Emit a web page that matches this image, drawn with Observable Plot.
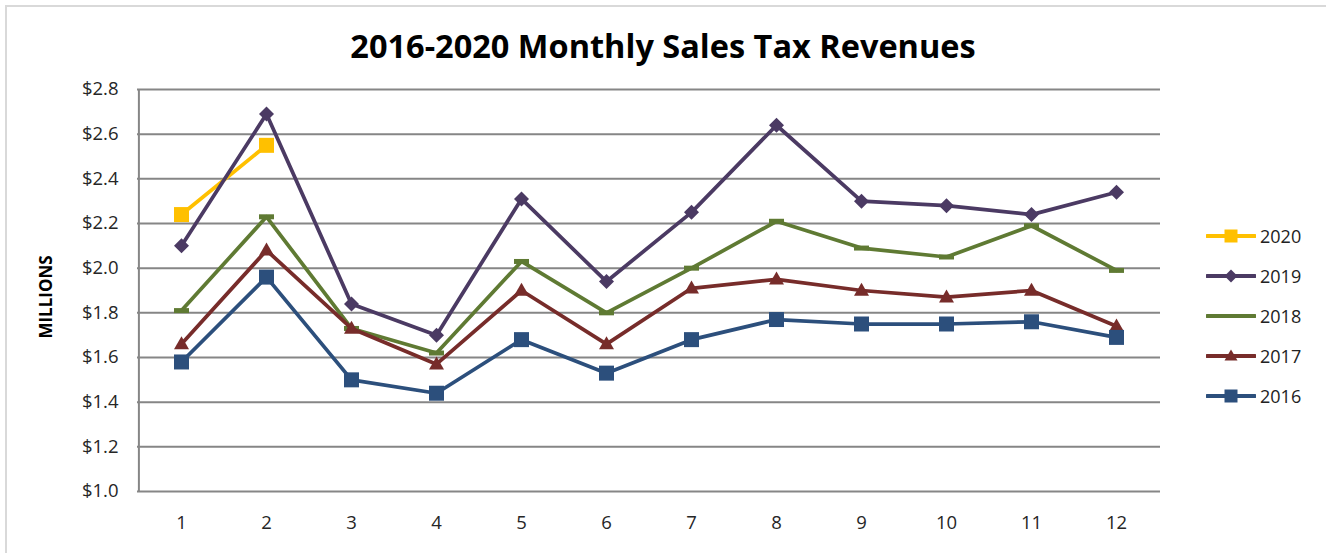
<!DOCTYPE html>
<html>
<head>
<meta charset="utf-8">
<script src="https://cdn.jsdelivr.net/npm/d3@7"></script>
<script src="https://cdn.jsdelivr.net/npm/@observablehq/plot@0.6"></script>
<style>
  html, body { margin: 0; padding: 0; background: #fff; }
  #wrap { position: relative; width: 1326px; height: 553px; overflow: hidden; font-family: "Open Sans", Lato, sans-serif; }
  #frame { position: absolute; left: 5px; top: 5px; width: 1325px; height: 560px; border: 2px solid #d9d9d9; box-sizing: border-box; }
  #title { position: absolute; left: 0; top: 26px; width: 1326px; text-align: center; font-weight: bold; font-size: 32.5px; line-height: 40px; color: #000; }
  #chart { position: absolute; left: 0; top: 0; }
  #ylab { position: absolute; left: 45px; top: 297px; transform: translate(-50%, -50%) rotate(-90deg); font-weight: bold; font-size: 17px; color: #000; white-space: nowrap; }
  #legend { position: absolute; left: 1206px; top: 216px; }
  .li { display: flex; align-items: center; height: 40px; font-size: 18px; color: #222; }
  .li svg { margin-right: 4px; }
</style>
</head>
<body>
<div id="wrap">
  <div id="chart"></div>
  <div id="frame"></div>
  <div id="title">2016-2020 Monthly Sales Tax Revenues</div>
  <div id="ylab">MILLIONS</div>
  <div id="legend"></div>
</div>
<script>
const months = [1, 2, 3, 4, 5, 6, 7, 8, 9, 10, 11, 12];
const yTicks = [1.0, 1.2, 1.4, 1.6, 1.8, 2.0, 2.2, 2.4, 2.6, 2.8];
const years = ["2020", "2019", "2018", "2017", "2016"];
const v2020 = [2.24, 2.55];
const v2019 = [2.10, 2.69, 1.84, 1.70, 2.31, 1.94, 2.25, 2.64, 2.30, 2.28, 2.24, 2.34];
const v2018 = [1.81, 2.23, 1.73, 1.62, 2.03, 1.80, 2.00, 2.21, 2.09, 2.05, 2.19, 1.99];
const v2017 = [1.66, 2.08, 1.73, 1.57, 1.90, 1.66, 1.91, 1.95, 1.90, 1.87, 1.90, 1.74];
const v2016 = [1.58, 1.96, 1.50, 1.44, 1.68, 1.53, 1.68, 1.77, 1.75, 1.75, 1.76, 1.69];

const colors = {"2020": "#FFC000", "2019": "#4B3A63", "2018": "#5F7A33", "2017": "#772C2A", "2016": "#2C4F7C"};

// custom marker shapes
const sq = (s) => ({draw(c) { c.rect(-s/2, -s/2, s, s); }});
const diamond = (h) => ({draw(c) { c.moveTo(0, -h); c.lineTo(h, 0); c.lineTo(0, h); c.lineTo(-h, 0); c.closePath(); }});
const dash = (w, h) => ({draw(c) { c.rect(-w/2, -h/2, w, h); }});
const tri = (w, h) => ({draw(c) { c.moveTo(0, -h*0.6); c.lineTo(w/2, h*0.4); c.lineTo(-w/2, h*0.4); c.closePath(); }});
const symbols = {"2020": sq(15), "2019": diamond(7.5), "2018": dash(15, 5), "2017": tri(15, 13), "2016": sq(15)};
const legendSymbols = {"2020": sq(13), "2019": diamond(6.5), "2018": null, "2017": tri(13, 11), "2016": sq(13)};

const seriesValues = {"2020": v2020, "2019": v2019, "2018": v2018, "2017": v2017, "2016": v2016};
const rows = {};
for (const y of years) rows[y] = seriesValues[y].map((v, i) => ({month: months[i], value: v, year: y}));

const marks = [
  Plot.ruleY(yTicks, {stroke: "#868686", strokeWidth: 2}),
  Plot.ruleX([months[0]], {dx: -42.6, y1: yTicks[0], y2: yTicks[yTicks.length - 1], stroke: "#868686", strokeWidth: 2})
];
for (const y of years) {
  marks.push(Plot.line(rows[y], {x: "month", y: "value", stroke: colors[y], strokeWidth: 3.75, strokeLinejoin: "round"}));
  marks.push(Plot.dot(rows[y], {x: "month", y: "value", fill: colors[y], stroke: "none", r: 5, symbol: () => symbols[y]}));
}

const chart = Plot.plot({
  width: 1326,
  height: 553,
  marginLeft: 137,
  marginRight: 166,
  marginTop: 89,
  marginBottom: 62,
  style: {fontFamily: "'Open Sans', Lato, sans-serif", fontSize: "18.5px", color: "#262626", background: "transparent"},
  x: {type: "point", domain: months, padding: 0.5, tickSize: 0, tickPadding: 24, label: null},
  y: {domain: [1.0, 2.8], ticks: yTicks, tickSize: 0, tickPadding: 19, tickFormat: d => "$" + d.toFixed(1), label: null},
  marks
});
document.getElementById("chart").appendChild(chart);

// legend
const leg = document.getElementById("legend");
for (const y of years) {
  const row = document.createElement("div");
  row.className = "li";
  const svg = d3.create("svg").attr("width", 50).attr("height", 16);
  svg.append("line").attr("x1", 1).attr("x2", 49).attr("y1", 8).attr("y2", 8)
    .attr("stroke", colors[y]).attr("stroke-width", 4).attr("stroke-linecap", "round");
  if (legendSymbols[y]) {
    const p = d3.path();
    legendSymbols[y].draw(p);
    svg.append("path").attr("d", p.toString()).attr("transform", "translate(25,8)").attr("fill", colors[y]);
  }
  row.appendChild(svg.node());
  const t = document.createElement("span");
  t.textContent = y;
  row.appendChild(t);
  leg.appendChild(row);
}
</script>
</body>
</html>
